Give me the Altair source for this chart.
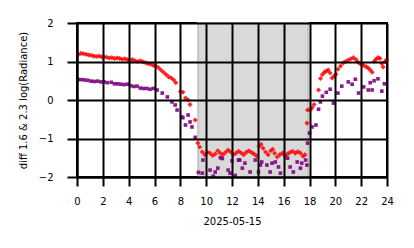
import altair as alt
import pandas as pd

red_h = [0.1, 0.3, 0.5, 0.7, 0.9, 1.1, 1.3, 1.5, 1.7, 1.9, 2.1, 2.3, 2.5, 2.7, 2.9, 3.1, 3.3, 3.5, 3.7, 3.9,
         4.1, 4.3, 4.5, 4.7, 4.9, 5.1, 5.3, 5.5, 5.7, 5.9, 6.1, 6.3, 6.5, 6.7, 6.9, 7.1, 7.3, 7.5, 7.65,
         8.0, 8.2, 8.4, 8.6, 8.75, 9.15, 9.35, 9.5, 9.7, 9.9,
         10.1, 10.3, 10.5, 10.7, 10.9, 11.1, 11.3, 11.5, 11.7, 11.9, 12.1, 12.3, 12.5, 12.7, 12.9,
         13.1, 13.3, 13.5, 13.7, 13.9, 14.1, 14.25, 14.4, 14.6, 14.8, 15.0, 15.15, 15.3, 15.5, 15.7, 15.9,
         16.1, 16.3, 16.5, 16.7, 16.9, 17.1, 17.3, 17.5, 17.65,
         17.8, 17.85, 18.05, 18.2, 18.35, 18.7, 18.85, 19.0, 19.15, 19.3, 19.45, 19.6, 19.75, 19.9,
         20.05, 20.2, 20.4, 20.6, 20.8, 21.0, 21.2, 21.4, 21.6, 21.75, 21.9, 22.05, 22.2, 22.4, 22.55,
         22.7, 22.85, 23.0, 23.15, 23.3, 23.45, 23.6, 23.7, 23.85, 23.95]
red_v = [1.18, 1.21, 1.20, 1.19, 1.17, 1.16, 1.14, 1.13, 1.14, 1.12, 1.12, 1.11, 1.09, 1.10, 1.08, 1.09, 1.08, 1.06, 1.07, 1.05,
         1.04, 1.05, 1.02, 1.00, 1.02, 0.99, 0.97, 0.94, 0.93, 0.90, 0.88, 0.84, 0.78, 0.72, 0.66, 0.60, 0.57, 0.52, 0.45,
         0.22, 0.20, 0.05, 0.00, -0.12, -0.52, -1.12, -1.22, -1.35, -1.42,
         -1.36, -1.38, -1.44, -1.40, -1.32, -1.38, -1.42, -1.36, -1.30, -1.35, -1.42, -1.38, -1.33, -1.37, -1.42,
         -1.36, -1.32, -1.36, -1.40, -1.45, -1.20, -1.15, -1.25, -1.35, -1.42, -1.32, -1.28, -1.38, -1.48, -1.42, -1.38,
         -1.45, -1.40, -1.36, -1.33, -1.38, -1.34, -1.38, -1.46, -1.42,
         -0.60, -0.26, -0.26, -0.20, -0.12, 0.26, 0.56, 0.66, 0.72, 0.75, 0.78, 0.70, 0.57, 0.62,
         0.67, 0.80, 0.88, 0.96, 1.00, 1.04, 1.07, 1.10, 1.05, 0.98, 0.95, 0.92, 0.90, 0.86, 0.83,
         0.78, 0.72, 1.00, 1.06, 1.10, 1.08, 0.95, 0.86, 1.00, 1.04]

pur_h = [0.1, 0.35, 0.6, 0.85, 1.1, 1.35, 1.6, 1.85, 2.1, 2.35, 2.65, 2.9, 3.15, 3.4, 3.65, 3.9, 4.15, 4.4, 4.65, 4.9,
         5.15, 5.4, 5.65, 5.9, 6.2, 6.6, 7.0, 7.35, 7.6, 7.75, 8.1, 8.2, 8.4, 8.6, 8.75, 8.9, 9.15,
         9.4, 9.7, 9.75, 10.3, 10.55, 10.7, 10.9, 11.1, 11.25, 11.7, 11.85, 12.0, 12.25, 12.5, 12.6, 12.8,
         13.0, 13.4, 13.8, 14.05, 14.2, 14.3, 14.7, 14.95, 15.1, 15.35, 15.6, 15.75, 16.3, 16.5, 16.75,
         17.05, 17.3, 17.4, 17.7, 17.8, 17.85,
         18.0, 18.2, 18.5, 18.7, 18.85, 19.0, 19.3, 19.6, 19.85, 20.2, 20.5, 21.0, 21.3, 21.55, 21.8,
         22.2, 22.55, 22.7, 22.85, 23.0, 23.3, 23.6, 23.8]
pur_v = [0.53, 0.53, 0.52, 0.51, 0.49, 0.48, 0.49, 0.47, 0.47, 0.45, 0.46, 0.42, 0.42, 0.41, 0.40, 0.41, 0.37, 0.35, 0.36, 0.31,
         0.30, 0.30, 0.28, 0.30, 0.26, 0.18, 0.08, -0.05, -0.13, -0.26, -0.44, -0.46, -0.65, -0.39, -0.57, -0.70, -0.97,
         -1.88, -1.90, -1.56, -1.82, -1.98, -1.87, -1.77, -1.50, -1.52, -1.82, -1.90, -1.58, -1.96, -1.56, -1.56, -1.77,
         -1.64, -1.87, -1.56, -1.87, -1.69, -1.61, -1.69, -1.87, -1.64, -1.61, -1.74, -1.90, -1.51, -1.74, -1.87,
         -1.61, -1.77, -1.64, -1.56, -1.69, -1.12,
         -0.86, -0.70, -0.65, -0.24, -0.05, 0.10, 0.20, 0.28, -0.08, 0.18, 0.36, 0.47, 0.41, 0.54, 0.18,
         0.34, 0.26, 0.45, 0.26, 0.50, 0.55, 0.23, 0.42]

x_ticks = [0, 2, 4, 6, 8, 10, 12, 14, 16, 18, 20, 22, 24]
y_ticks = [-2, -1, 0, 1, 2]

band_start = [9.38]
band_end = [17.9]
band_low = [-2]
band_high = [2]

red_df = pd.DataFrame({"h": red_h, "v": red_v})
pur_df = pd.DataFrame({"h": pur_h, "v": pur_v})
band_df = pd.DataFrame({"h": band_start, "h2": band_end, "v": band_low, "v2": band_high})

xscale = alt.Scale(domain=[0, 24], nice=False)
yscale = alt.Scale(domain=[-2, 2], nice=False)

common = dict(grid=True, gridColor="black", gridWidth=2, gridOpacity=1, ticks=True,
              domainColor="black", domainWidth=2, tickColor="black", tickWidth=2,
              labelFont="DejaVu Sans", labelFontSize=10, labelColor="black",
              titleFont="DejaVu Sans", titleFontSize=10, titleFontWeight="normal", titleColor="black",
              zindex=1, labelFlush=False, labelOverlap=False, format="d")

xaxis = alt.Axis(title="2025-05-15", values=x_ticks, tickSize=9, labelPadding=10, titlePadding=10, **common)
yaxis = alt.Axis(title="diff 1.6 & 2.3  log(Radiance)", values=y_ticks, tickSize=10, labelPadding=14,
                 titlePadding=10, **common)

band = alt.Chart(band_df).mark_rect(color="#d9d9d9", stroke="#c6c6c6", strokeWidth=2).encode(
    x2="h2:Q",
    y2="v2:Q",
)

red = alt.Chart(red_df).mark_point(shape="diamond", filled=True, size=26, color="#ff0000", opacity=0.85)

pur = alt.Chart(pur_df).mark_point(shape="square", filled=True, size=13, color="#800080", opacity=0.9)

chart = alt.layer(band, pur, red).encode(
    x=alt.X("h:Q", scale=xscale, axis=xaxis),
    y=alt.Y("v:Q", scale=yscale, axis=yaxis),
).properties(
    width=310, height=154,
    background="white",
    autosize=alt.AutoSizeParams(type="none"),
    padding={"left": 77, "top": 23, "right": 27, "bottom": 71},
).configure_view(stroke="black", strokeWidth=2)

chart.save("out.html", embed_options={"renderer": "svg", "actions": False})
